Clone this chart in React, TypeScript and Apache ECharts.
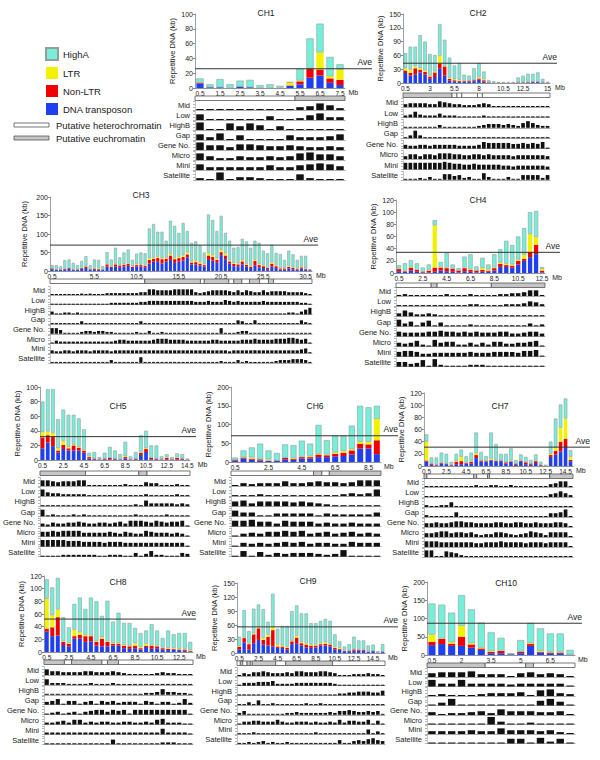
import React, { useEffect, useRef } from "react";
import * as echarts from "echarts";

const ROW_NAMES = ["Mid", "Low", "HighB", "Gap", "Gene No.", "Micro", "Mini", "Satellite"];
const SERIES_NAMES = ["HighA", "LTR", "Non-LTR", "DNA transposon"];

// ---------------- CH1 ----------------
const ch1Total = [13, 5, 12, 5, 10, 11, 4, 5, 3, 8, 26, 67, 87, 42, 32];
const ch1Dna = [6, 1, 1, 0, 2, 1, 0, 0, 0, 3, 5, 14, 17, 7, 4];
const ch1NonLtr = [1, 0, 0, 0, 0, 0, 0, 0, 0, 0.5, 4, 12, 8, 6, 7];
const ch1Ltr = [0, 0, 0, 0, 0, 0, 0, 0, 0, 4, 1, 0, 23, 3, 14];
const ch1Ave = 26;
const ch1Ticks = ["0.5", "1.5", "2.5", "3.5", "4.5", "5.5", "6.5", "7.5"];
const ch1Band = [[0, 10, 0], [10, 15, 1]];
const ch1Mid = [1, 1, 1, 0.5, 1, 1, 1, 1, 1, 1, 3, 4, 7, 5, 2];
const ch1Low = [6, 1, 0.5, 0.5, 0.5, 0.5, 1, 4, 0.5, 0.5, 2, 5, 7, 3, 3];
const ch1HighB = [8, 1, 0.5, 7, 4, 7, 5, 0.5, 4, 0.5, 1, 1, 1, 1, 0.5];
const ch1Gap = [6, 3, 7, 0.5, 5, 1, 1, 0.5, 1, 5, 3, 3, 3, 4, 6];
const ch1Gene = [8, 5, 5, 3, 6, 6, 5, 4, 4, 5, 4, 3, 3, 4, 3];
const ch1Micro = [7, 4, 2, 2, 4, 3, 3, 4, 3, 4, 7, 8, 6, 6, 4];
const ch1Mini = [6, 3, 3, 3, 3, 3, 3, 5, 3, 3, 5, 6, 7, 6, 4];
const ch1Sat = [2, 0.5, 8, 1, 3, 3, 2, 1, 1, 1, 6, 2, 0.5, 0.5, 0.5];

// ---------------- CH2 ----------------
const ch2Total = [65, 79, 79, 104, 90, 63, 61, 128, 94, 55, 38, 43, 18, 16, 32, 43, 25, 6, 4, 2, 2, 2, 2, 12, 16, 20, 20, 23, 9, 3];
const ch2Dna = [22, 16, 18, 23, 18, 9, 13, 31, 16, 5, 4, 3, 2, 3, 4, 7, 3, 1, 0.5, 0.5, 0.5, 0.5, 0.5, 1, 1, 1, 2, 2, 1, 0.5];
const ch2NonLtr = [5, 6, 14, 6, 6, 5, 10, 12, 20, 4, 2, 2, 2, 2, 2, 3, 3, 0.5, 0, 0, 0, 0, 0, 0.5, 0.5, 1, 1, 1, 0.5, 0];
const ch2Ltr = [5, 7, 4, 3, 3, 2, 2, 16, 1, 2, 2, 2, 0, 0, 0, 2, 2, 0, 0, 0, 0, 0, 0, 0, 0, 0, 0, 0, 0, 0];
const ch2Ave = 43;
const ch2Ticks = ["0.5", "3", "5.5", "8", "10.5", "12.5", "15"];
const ch2Band = [[0, 10, 1], [10, 11, 0], [11, 12, 0], [12, 15.2, 0], [15.2, 16.2, 0], [16.2, 30, 0]];
const ch2Mid = [3, 4, 4, 4, 4, 3, 3, 6, 5, 4, 3, 3, 2, 2, 2, 3, 4, 3, 0.5, 0.5, 0.5, 0.5, 0.5, 0.5, 1, 1, 1, 1, 1, 0.5];
const ch2Low = [2, 3, 6, 3, 2, 2, 2, 4, 2, 2, 2, 1, 1, 1, 1, 1, 2, 1, 0.5, 0.5, 0.5, 0.5, 0.5, 0.5, 1, 1, 1, 1, 0.5, 0.5];
const ch2HighB = [0.5, 0.5, 0.5, 0.5, 0.5, 0.5, 0.5, 3, 1, 0.5, 0.5, 0.5, 1, 1, 1, 2, 3, 4, 4, 4, 3, 4, 3, 2, 5, 7, 5, 3, 2, 2];
const ch2Gap = [0.5, 3, 8, 3, 0.5, 0.5, 0.5, 0.5, 0.5, 0.5, 0.5, 0.5, 0.5, 0.5, 0.5, 0.5, 0.5, 0.5, 0.5, 0.5, 0.5, 0.5, 1, 1, 0.5, 0.5, 0.5, 0.5, 0.5, 0.5];
const ch2Gene = [4, 3, 3, 4, 4, 3, 4, 4, 4, 4, 4, 3, 3, 3, 3, 4, 7, 6, 6, 6, 6, 6, 5, 5, 6, 5, 6, 5, 7, 1];
const ch2Micro = [3, 5, 5, 3, 5, 5, 4, 6, 6, 6, 5, 5, 4, 4, 5, 5, 4, 5, 4, 4, 4, 4, 3, 4, 4, 4, 4, 4, 4, 3];
const ch2Mini = [7, 7, 7, 7, 7, 7, 7, 7, 8, 7, 6, 6, 5, 5, 6, 5, 5, 5, 5, 5, 4, 4, 3, 4, 4, 4, 4, 4, 4, 3];
const ch2Sat = [1, 0.5, 0.5, 2, 1, 3, 0.5, 0.5, 6, 6, 4, 5, 2, 3, 0.5, 1, 7, 3, 1, 0.5, 1, 3, 0.5, 0.5, 5, 5, 5, 5, 2, 5];

// ---------------- CH3 ----------------
const ch3Total = [16, 16, 13, 29, 31, 22, 16, 27, 40, 16, 31, 30, 13, 51, 31, 63, 37, 50, 58, 30, 47, 50, 48, 115, 127, 106, 106, 82, 136, 122, 103, 130, 108, 76, 80, 70, 50, 153, 138, 108, 149, 103, 82, 63, 65, 87, 80, 63, 82, 76, 55, 48, 71, 49, 46, 30, 55, 45, 30, 41, 41, 5];
const ch3Dna = [5, 3, 3, 4, 6, 3, 3, 6, 8, 4, 5, 3, 3, 12, 8, 12, 10, 12, 14, 8, 12, 12, 10, 20, 25, 25, 20, 25, 30, 22, 25, 28, 37, 18, 18, 15, 12, 30, 28, 22, 43, 32, 20, 13, 13, 18, 12, 8, 15, 10, 8, 5, 12, 8, 4, 4, 7, 5, 3, 7, 4, 2];
const ch3NonLtr = [2, 1, 1, 2, 2, 1, 1, 2, 4, 1, 2, 2, 1, 6, 3, 6, 5, 5, 5, 3, 4, 4, 4, 10, 8, 10, 12, 8, 12, 10, 10, 10, 8, 5, 6, 5, 4, 12, 10, 8, 8, 10, 6, 6, 5, 8, 5, 4, 12, 6, 5, 3, 8, 5, 3, 3, 4, 3, 2, 3, 2, 1];
const ch3Ltr = [0, 0, 0, 0, 0, 0, 0, 1, 1, 0, 2, 2, 0, 1, 1, 1, 1, 1, 1, 1, 2, 1, 2, 4, 2, 3, 2, 2, 4, 3, 3, 4, 5, 3, 4, 4, 2, 6, 5, 4, 6, 5, 3, 2, 2, 3, 2, 2, 3, 2, 2, 1, 3, 2, 1, 1, 2, 1, 1, 2, 1, 0];
const ch3Ave = 70;
const ch3Ticks = ["0.5", "5.5", "10.5", "15.5", "20.5", "25.5", "30.5"];
const ch3Band = [[0, 22.4, 0], [22.4, 35.6, 1], [35.6, 36.5, 0], [36.5, 42.3, 1], [42.3, 43.5, 0], [43.5, 45.4, 1], [45.4, 47.2, 0], [47.2, 49.6, 1], [49.6, 51.7, 0], [51.7, 52.9, 1], [52.9, 62, 0]];
const ch3Mid = [1, 1, 1, 1, 1, 1, 1, 1.5, 1, 1.5, 1, 1, 1, 2, 2, 2, 2, 2, 2, 2, 2, 3, 3, 6, 6, 5, 5, 5, 5, 6, 6, 6, 6, 6, 3, 2, 3, 4, 5, 5, 5, 5, 4, 3, 5, 3, 5, 4, 3, 3, 5, 3, 4, 4, 4, 4, 3, 3, 3, 3, 2, 0.5];
const ch3Low = [1, 1, 1, 1, 1, 1, 1, 1, 1, 1, 1, 1, 1, 1, 2, 2, 2, 2, 2, 2, 2, 3, 3, 4, 4, 4, 4, 4, 4, 4, 4, 4, 4, 4, 3, 3, 3, 4, 3, 3, 3, 5, 4, 3, 4, 3, 3, 3, 3, 3, 4, 3, 3, 3, 3, 3, 3, 3, 3, 2, 2, 0.5];
const ch3HighB = [3, 1, 1, 2, 2, 1, 2, 1, 1, 0.5, 0.5, 1, 1, 1, 1, 1, 1, 1, 1, 1, 0.5, 0.5, 0.5, 0.5, 0.5, 0.5, 0.5, 0.5, 0.5, 0.5, 0.5, 0.5, 0.5, 0.5, 0.5, 0.5, 0.5, 0.5, 0.5, 0.5, 0.5, 0.5, 0.5, 0.5, 0.5, 0.5, 1, 0.5, 0.5, 1, 1, 1, 0.5, 0.5, 1, 1, 2, 2, 1, 3, 5, 7];
const ch3Gap = [0.5, 0.5, 1, 1, 1, 0.5, 0.5, 3, 0.5, 0.5, 0.5, 0.5, 0.5, 0.5, 0.5, 0.5, 0.5, 0.5, 1, 1, 0.5, 3, 1, 1, 0.5, 0.5, 0.5, 0.5, 0.5, 0.5, 0.5, 0.5, 0.5, 0.5, 0.5, 0.5, 0.5, 0.5, 0.5, 0.5, 0.5, 1, 1, 1, 4, 3, 1, 1, 4, 1, 1, 0.5, 0.5, 0.5, 0.5, 0.5, 1, 0.5, 1, 4, 2, 0.5];
const ch3Gene = [6, 6, 4, 1, 1, 1, 1, 2, 3, 3, 2, 3, 3, 2, 2, 1, 1, 1, 1, 1, 2, 1, 1, 3, 1, 1, 2, 1, 1, 1, 1, 1, 1, 1, 1, 1, 1, 1, 1, 1, 6, 1, 1, 1, 2, 3, 3, 1, 1, 1, 1, 1, 1, 1, 1, 1, 1, 1, 1, 1, 1, 0.5];
const ch3Micro = [1, 3, 2, 2, 2, 2, 2, 2, 2, 2, 2, 2, 2, 2, 2, 3, 4, 4, 3, 3, 3, 3, 3, 3, 4, 5, 5, 5, 4, 4, 4, 4, 3, 3, 3, 3, 3, 3, 4, 4, 3, 3, 3, 3, 3, 4, 4, 4, 5, 4, 4, 4, 4, 5, 5, 5, 6, 6, 5, 4, 5, 1];
const ch3Mini = [3, 2, 2, 3, 3, 2, 3, 3, 3, 2, 3, 3, 3, 3, 2, 3, 3, 3, 3, 3, 3, 3, 3, 3, 3, 3, 3, 3, 3, 3, 3, 3, 3, 3, 3, 3, 3, 3, 3, 3, 3, 3, 2, 3, 3, 3, 3, 3, 3, 3, 3, 3, 3, 3, 3, 3, 3, 3, 3, 4, 5, 0.5];
const ch3Sat = [0.5, 0.5, 0.5, 0.5, 1, 0.5, 0.5, 0.5, 0.5, 0.5, 0.5, 0.5, 0.5, 0.5, 3, 0.5, 0.5, 1, 0.5, 0.5, 0.5, 6, 0.5, 0.5, 0.5, 0.5, 0.5, 0.5, 0.5, 0.5, 0.5, 0.5, 0.5, 0.5, 0.5, 0.5, 0.5, 1, 0.5, 0.5, 2, 0.5, 1, 1, 3, 1, 2, 1, 1, 0.5, 1, 1, 1, 2, 3, 3, 3, 4, 4, 4, 3, 0.5];

// ---------------- CH4 ----------------
const ch4Total = [13, 16, 21, 16, 9, 14, 87, 18, 33, 14, 8, 27, 31, 11, 25, 14, 31, 39, 53, 46, 60, 74, 100, 102, 10];
const ch4Dna = [3, 2, 4, 2, 1, 1, 2, 4, 3, 2, 1, 3, 2, 1, 2, 2, 4, 10, 10, 9, 14, 20, 26, 31, 1];
const ch4NonLtr = [3.5, 1, 5, 3, 1, 3, 7, 5, 5, 5, 3, 5, 3, 3, 3, 2, 4, 5, 3, 3, 6, 3, 9, 15, 3];
const ch4Ltr = [1, 1, 1, 0, 0, 1, 69, 1, 1, 0, 0, 1, 1, 0, 3, 2, 1, 2, 2, 2, 2, 7, 29, 13, 3];
const ch4Ave = 34;
const ch4Ticks = ["0.5", "2.5", "4.5", "6.5", "8.5", "10.5", "12.5"];
const ch4Band = [[0, 5.9, 0], [5.9, 6.9, 1], [6.9, 16, 0], [16, 25, 1]];
const ch4Mid = [0.5, 2, 1, 1, 0.5, 0.5, 0.5, 0.5, 2, 1, 0.5, 0.5, 2, 0.5, 0.5, 0.5, 1, 2, 2, 3, 3, 4, 6, 6, 0.5];
const ch4Low = [0.5, 0.5, 0.5, 0.5, 0.5, 0.5, 0.5, 0.5, 0.5, 0.5, 0.5, 0.5, 2, 2, 1, 1, 1, 1, 2, 2, 2, 3, 5, 4, 2];
const ch4HighB = [3, 6, 4, 2, 2, 3, 2, 1, 1, 1, 1, 1, 1, 0.5, 1, 1, 0.5, 0.5, 0.5, 0.5, 0.5, 0.5, 0.5, 0.5, 0.5];
const ch4Gap = [7, 3, 5, 1, 4, 6, 1, 4, 0.5, 0.5, 0.5, 1, 2, 1, 0.5, 0.5, 1, 0.5, 0.5, 1, 1, 1, 3, 1, 2];
const ch4Gene = [5, 4, 4, 4, 4, 5, 5, 6, 5, 5, 4, 5, 4, 5, 4, 4, 4, 5, 5, 3, 3, 4, 5, 5, 3];
const ch4Micro = [4, 3, 4, 6, 2, 1, 7, 4, 5, 5, 2, 2, 4, 2, 4, 2, 5, 5, 3, 3, 4, 4, 5, 6, 0.5];
const ch4Mini = [5, 6, 6, 5, 3, 3, 4, 4, 4, 4, 4, 4, 5, 4, 4, 4, 5, 5, 5, 5, 4, 6, 6, 7, 0.5];
const ch4Sat = [5, 5, 3, 4, 7, 1, 8, 2, 0.5, 0.5, 1, 1, 2, 2, 2, 1, 1, 0.5, 1, 0.5, 1, 0.5, 0.5, 0.5, 0.5];

// ---------------- CH5 ----------------
const ch5Total = [80, 97, 97, 56, 69, 62, 62, 57, 42, 10, 11, 4, 10, 18, 13, 8, 25, 5, 11, 34, 40, 20, 20, 5, 8, 4, 9, 8, 2];
const ch5Dna = [16, 24, 19, 10, 15, 13, 13, 13, 10, 2, 1, 0.5, 1, 1, 1, 0.5, 2, 0.5, 1, 7, 11, 1, 1, 0.5, 1, 0.5, 1, 1, 0.5];
const ch5NonLtr = [15, 10, 13, 3, 6, 3, 7, 4, 3, 2, 1, 0.5, 1, 2, 1, 0.5, 2, 0.5, 1, 3, 4, 2, 1, 0.5, 2, 0.5, 2, 1, 0];
const ch5Ltr = [7, 5, 5, 3, 5, 2, 1, 1, 1, 1, 0, 0, 0, 0, 0, 0, 1, 0, 0, 1, 1, 0, 0, 0, 1, 0, 1, 0, 0];
const ch5Ave = 32;
const ch5Ticks = ["0.5", "2.5", "4.5", "6.5", "8.5", "10.5", "12.5", "14.5"];
const ch5Band = [[0, 8.8, 1], [8.8, 19.1, 0], [19.1, 20.7, 1], [20.7, 29, 0]];
const ch5Mid = [6, 6, 5, 4, 5, 5, 5, 6, 6, 1, 1, 1, 1, 1, 1, 1, 2, 1, 1, 1, 4, 3, 3, 1, 1, 1, 2, 1, 0.5];
const ch5Low = [7, 4, 3, 3, 2, 2, 2, 2, 2, 1, 1, 1, 1, 1, 1, 1, 1, 1, 1, 1, 2, 1, 1, 1, 1, 1, 2, 1, 0.5];
const ch5HighB = [0.5, 0.5, 0.5, 0.5, 1, 0.5, 0.5, 0.5, 0.5, 0.5, 0.5, 1, 1, 1, 1, 1, 1, 1, 2, 1, 6, 3, 3, 3, 3, 3, 2, 3, 2];
const ch5Gap = [7, 1, 2, 1, 1, 1, 2, 1, 2, 0.5, 0.5, 0.5, 0.5, 0.5, 0.5, 0.5, 0.5, 0.5, 2, 1, 0.5, 0.5, 0.5, 0.5, 2, 1, 1, 1, 0.5];
const ch5Gene = [3, 2, 4, 3, 3, 4, 4, 5, 4, 3, 3, 4, 4, 3, 4, 5, 3, 6, 6, 6, 5, 4, 6, 5, 4, 5, 5, 6, 1];
const ch5Micro = [5, 5, 6, 5, 6, 6, 6, 6, 4, 4, 4, 4, 4, 5, 4, 3, 5, 4, 3, 3, 6, 5, 4, 4, 4, 3, 4, 3, 1];
const ch5Mini = [7, 7, 7, 7, 7, 6, 6, 6, 5, 5, 5, 5, 4, 5, 5, 5, 4, 4, 4, 4, 4, 4, 4, 4, 4, 4, 4, 4, 1];
const ch5Sat = [0.5, 0.5, 0.5, 0.5, 2, 2, 2, 2, 2, 2, 2, 1, 1, 2, 2, 2, 1, 1, 4, 0.5, 3, 6, 2, 2, 1, 1, 1, 4, 3];

// ---------------- CH6 ----------------
const ch6Total = [12, 31, 39, 49, 31, 24, 47, 45, 57, 49, 99, 58, 70, 70, 97, 150, 146, 150];
const ch6Dna = [4, 9, 6, 4, 3, 3, 7, 6, 9, 9, 13, 13, 15, 16, 20, 36, 36, 21];
const ch6NonLtr = [2, 3, 3, 3, 1, 1, 4, 3, 4, 4, 7, 5, 7, 9, 11, 13, 11, 37];
const ch6Ltr = [0, 1, 3, 0, 3, 0, 0, 2, 0, 2, 2, 2, 3, 4, 3, 5, 7, 57];
const ch6Ave = 70;
const ch6Ticks = ["0.5", "2.5", "4.5", "6.5", "8.5"];
const ch6Band = [[0, 9.9, 0], [9.9, 10.9, 1], [10.9, 11.8, 0], [11.8, 18, 1]];
const ch6Mid = [0.5, 3, 2, 3, 3, 3, 5, 3, 3, 4, 5, 4, 4, 3, 4, 6, 6, 6];
const ch6Low = [0.5, 1, 1, 2, 1, 1, 1, 1, 1, 1, 1, 1, 1, 2, 3, 2, 3, 7];
const ch6HighB = [5, 6, 3, 5, 5, 5, 5, 4, 5, 4, 3, 2, 1, 0.5, 0.5, 0.5, 0.5, 0.5];
const ch6Gap = [6, 4, 4, 1, 1, 3, 3, 3, 3, 3, 0.5, 3, 2, 2, 2, 2, 2, 4];
const ch6Gene = [6, 6, 7, 5, 5, 3, 6, 5, 5, 5, 3, 4, 3, 3, 4, 3, 3, 3];
const ch6Micro = [1, 3, 4, 3, 5, 5, 6, 5, 6, 3, 4, 5, 3, 4, 5, 3, 4, 3];
const ch6Mini = [1, 4, 3, 4, 3, 4, 5, 4, 5, 3, 4, 4, 3, 3, 5, 4, 4, 4];
const ch6Sat = [1, 6, 1, 5, 2, 4, 3, 4, 4, 4, 3, 2, 3, 7, 1, 1, 0.5, 0.5];

// ---------------- CH7 ----------------
const ch7Total = [52, 14, 14, 22, 20, 7, 20, 27, 16, 22, 55, 23, 16, 55, 36, 20, 20, 29, 10, 19, 15, 10, 19, 7, 2, 40, 78, 101, 111, 26];
const ch7Dna = [7, 2, 1, 4, 3, 1, 3, 3, 4, 4, 13, 7, 7, 9, 8, 8, 4, 7, 2, 8, 3, 2, 5, 1, 0.5, 15, 19, 24, 31, 8];
const ch7NonLtr = [2, 2, 1, 1, 1, 1, 4, 5, 1, 3, 5, 2, 1, 1, 1, 1, 2, 1, 2, 1, 3, 2, 3, 1, 0, 3, 6, 16, 14, 2];
const ch7Ltr = [31, 0, 0, 0, 0, 0, 1, 7, 0, 1, 3, 0, 0, 2, 1, 0, 0, 1, 0, 1, 0, 0, 1, 0, 0, 2, 6, 23, 33, 5];
const ch7Ave = 31;
const ch7Ticks = ["0.5", "2.5", "4.5", "6.5", "8.5", "10.5", "12.5", "14.5"];
const ch7Band = [[0, 0.6, 1], [0.6, 10, 0], [10, 10.6, 1], [10.6, 12.8, 0], [12.8, 13.2, 1], [13.2, 25.3, 0], [25.3, 30, 1]];
const ch7Mid = [0.5, 1, 1, 1, 1, 0.5, 1, 1, 1, 1, 2, 1, 1, 2, 2, 1, 1, 2, 1, 1, 1, 1, 1, 0.5, 0.5, 3, 4, 6, 6, 1];
const ch7Low = [0.5, 0.5, 1, 1, 1, 0.5, 1, 1, 1, 1, 1, 1, 1, 1, 1, 1, 1, 1, 1, 1, 1, 1, 1, 1, 1, 3, 4, 6, 4, 2];
const ch7HighB = [2, 1, 0.5, 2, 2, 5, 1, 0.5, 0.5, 0.5, 0.5, 0.5, 0.5, 0.5, 0.5, 0.5, 0.5, 0.5, 0.5, 0.5, 0.5, 1, 0.5, 0.5, 0.5, 0.5, 1, 1, 0.5, 0.5];
const ch7Gap = [2, 1, 1, 1, 1, 0.5, 5, 1, 1, 0.5, 0.5, 0.5, 0.5, 1, 0.5, 0.5, 0.5, 0.5, 0.5, 0.5, 0.5, 0.5, 0.5, 0.5, 0.5, 4, 4, 5, 8, 1];
const ch7Gene = [4, 4, 5, 4, 4, 5, 6, 6, 5, 5, 4, 4, 4, 4, 5, 5, 4, 4, 5, 5, 4, 4, 5, 4, 4, 4, 5, 5, 4, 1];
const ch7Micro = [4, 4, 5, 6, 6, 4, 5, 5, 4, 5, 3, 2, 3, 3, 5, 5, 4, 3, 2, 3, 4, 6, 5, 4, 2, 5, 5, 5, 5, 1];
const ch7Mini = [6, 6, 6, 5, 5, 5, 5, 5, 5, 5, 4, 4, 5, 5, 5, 6, 5, 5, 5, 5, 4, 5, 5, 5, 4, 5, 5, 5, 5, 1];
const ch7Sat = [7, 7, 1, 1, 6, 5, 4, 2, 1, 1, 1, 1, 1, 0.5, 1, 1, 1, 1, 1, 1, 1, 1, 1, 1, 1, 0.5, 1, 1, 1, 0.5];

// ---------------- CH8 ----------------
const ch8Total = [115, 102, 117, 55, 39, 76, 86, 68, 86, 80, 57, 81, 48, 62, 46, 46, 38, 30, 34, 44, 34, 22, 34, 28, 30, 30, 16];
const ch8Dna = [32, 25, 26, 11, 9, 21, 21, 16, 17, 10, 9, 9, 10, 10, 6, 5, 6, 4, 8, 5, 6, 4, 3, 4, 3, 2, 1];
const ch8NonLtr = [5, 14, 29, 5, 4, 4, 6, 9, 8, 6, 12, 7, 3, 3, 4, 4, 4, 2, 2, 5, 3, 2, 2, 1, 1, 2, 1];
const ch8Ltr = [47, 19, 12, 1, 1, 10, 4, 2, 1, 1, 2, 1, 1, 1, 1, 1, 4, 2, 3, 1, 1, 1, 1, 1, 1, 1, 1];
const ch8Ave = 52;
const ch8Ticks = ["0.5", "2.5", "4.5", "6.5", "8.5", "10.5", "12.5"];
const ch8Band = [[0, 3.7, 1], [3.7, 5, 0], [5, 10.5, 1], [10.5, 11.5, 0], [11.5, 13.5, 1], [13.5, 27, 0]];
const ch8Mid = [6, 4, 4, 3, 3, 3, 3, 4, 4, 3, 3, 3, 4, 3, 2, 1, 1, 1, 1, 1, 2, 3, 2, 2, 1, 1, 0.5];
const ch8Low = [6, 2, 2, 2, 1, 1, 1, 1, 2, 1, 1, 1, 2, 1, 1, 1, 1, 1, 1, 1, 1, 1, 1, 1, 1, 1, 0.5];
const ch8HighB = [0.5, 0.5, 0.5, 0.5, 0.5, 0.5, 0.5, 0.5, 0.5, 0.5, 0.5, 0.5, 0.5, 0.5, 0.5, 0.5, 1, 1, 2, 2, 3, 6, 3, 3, 2, 2, 1];
const ch8Gap = [3, 4, 6, 0.5, 4, 4, 0.5, 3, 4, 0.5, 4, 3, 4, 2, 3, 3, 3, 0.5, 4, 3, 1, 3, 3, 1, 2, 6, 2];
const ch8Gene = [1, 2, 3, 1, 2, 3, 0.5, 3, 4, 5, 5, 3, 5, 4, 5, 0.5, 5, 5, 5, 5, 5, 5, 5, 5, 5, 5, 1];
const ch8Micro = [2, 2, 3, 4, 2, 5, 5, 2, 3, 2, 3, 3, 2, 2, 3, 3, 2, 2, 3, 2, 5, 6, 2, 2, 2, 1, 0.5];
const ch8Mini = [2, 2, 2, 2, 2, 2, 2, 2, 2, 2, 2, 2, 2, 2, 2, 2, 2, 2, 2, 2, 2, 6, 2, 2, 2, 2, 0.5];
const ch8Sat = [0.5, 0.5, 1, 0.5, 0.5, 0.5, 0.5, 0.5, 0.5, 1, 1, 1, 5, 1, 1, 1, 1, 0.5, 0.5, 0.5, 1, 2, 2, 2, 1, 1, 1];

// ---------------- CH9 ----------------
const ch9Total = [35, 92, 47, 95, 104, 94, 67, 127, 52, 58, 58, 90, 102, 85, 85, 64, 64, 69, 73, 69, 40, 25, 14, 19, 35, 27, 27, 16, 18, 4, 19];
const ch9Dna = [8, 23, 7, 21, 28, 18, 16, 14, 11, 11, 7, 19, 21, 16, 12, 11, 12, 16, 16, 14, 8, 7, 4, 4, 5, 5, 5, 2, 4, 1, 2];
const ch9NonLtr = [5, 9, 12, 19, 25, 10, 19, 35, 3, 3, 4, 6, 12, 5, 6, 5, 4, 3, 4, 4, 3, 2, 1, 1, 3, 2, 2, 1, 1, 0, 1];
const ch9Ltr = [2, 1, 2, 2, 2, 4, 4, 7, 4, 2, 2, 1, 4, 2, 2, 2, 2, 2, 3, 1, 2, 2, 1, 0, 1, 0, 0, 0, 0, 0, 0];
const ch9Ave = 56;
const ch9Ticks = ["0.5", "2.5", "4.5", "6.5", "8.5", "10.5", "12.5", "14.5"];
const ch9Band = [[0, 0.7, 0], [0.7, 1.2, 1], [1.2, 2.1, 0], [2.1, 2.8, 1], [2.8, 3.2, 0], [3.2, 8.1, 1], [8.1, 10.2, 0], [10.2, 20, 1], [20, 31, 0]];
const ch9Mid = [1, 3, 2, 4, 4, 5, 4, 3, 3, 3, 4, 3, 5, 5, 4, 4, 4, 5, 5, 4, 3, 1, 1, 1, 2, 2, 2, 3, 2, 2, 1];
const ch9Low = [1, 3, 3, 3, 4, 4, 4, 5, 2, 2, 2, 2, 3, 3, 3, 3, 3, 3, 3, 3, 2, 1, 1, 1, 1, 1, 1, 1, 1, 1, 1];
const ch9HighB = [1, 1, 0.5, 0.5, 0.5, 0.5, 1, 0.5, 1, 1, 0.5, 0.5, 1, 0.5, 1, 0.5, 0.5, 0.5, 0.5, 0.5, 1, 2, 2, 3, 3, 4, 4, 4, 3, 3, 5];
const ch9Gap = [0.5, 1, 3, 1, 5, 1, 1, 2, 1, 1, 1, 1, 1, 1, 2, 1, 1, 2, 1, 1, 1, 1, 1, 0.5, 1, 1, 1, 1, 1, 1, 1];
const ch9Gene = [2, 4, 1, 0.5, 0.5, 1, 1, 1, 1, 1, 2, 2, 3, 2, 2, 2, 2, 2, 2, 3, 2, 4, 4, 5, 4, 3, 3, 4, 3, 4, 1];
const ch9Micro = [1, 3, 3, 4, 4, 3, 3, 3, 5, 3, 2, 2, 3, 3, 3, 2, 3, 2, 2, 3, 2, 5, 2, 4, 4, 3, 3, 5, 1, 4, 1];
const ch9Mini = [1, 1, 1, 2, 1, 1, 1, 1, 1, 1, 1, 1, 1, 1, 1, 1, 2, 1, 1, 1, 1, 1, 1, 1, 1, 1, 1, 5, 1, 3, 1];
const ch9Sat = [1, 1, 2, 1, 2, 3, 0.5, 2, 1, 1, 2, 1, 1, 1, 0.5, 1, 1, 1, 1, 1, 1, 4, 1, 1, 3, 4, 3, 5, 6, 4, 3];

// ---------------- CH10 ----------------
const ch10Total = [141, 138, 116, 164, 125, 89, 62, 47, 5, 41, 88, 73, 59, 59, 14];
const ch10Dna = [27, 30, 25, 25, 20, 14, 5, 5, 2, 5, 25, 7, 5, 5, 1];
const ch10NonLtr = [9, 14, 6, 25, 9, 4, 4, 6, 0, 4, 5, 2, 2, 2, 0];
const ch10Ltr = [20, 1, 4, 30, 3, 2, 2, 1, 0, 0, 2, 3, 2, 2, 0];
const ch10Ave = 87;
const ch10Ticks = ["0.5", "2", "3.5", "5", "6.5"];
const ch10Band = [[0, 5.9, 1], [5.9, 10, 0], [10, 10.8, 1], [10.8, 15, 0]];
const ch10Mid = [4, 5, 5, 5, 6, 3, 3, 3, 1, 4, 5, 3, 4, 3, 0.5];
const ch10Low = [7, 3, 3, 7, 3, 3, 3, 3, 2, 3, 3, 3, 3, 3, 1];
const ch10HighB = [0.5, 2, 0.5, 0.5, 0.5, 2, 3, 3, 3, 4, 0.5, 6, 7, 3, 2];
const ch10Gap = [0.5, 3, 7, 0.5, 0.5, 0.5, 0.5, 0.5, 0.5, 0.5, 0.5, 5, 7, 4, 1];
const ch10Gene = [3, 0.5, 2, 2, 3, 4, 2, 6, 4, 4, 4, 3, 3, 4, 0.5];
const ch10Micro = [1, 1, 1, 1, 1, 1, 8, 3, 1, 1, 2, 1, 1, 1, 0.5];
const ch10Mini = [3, 3, 3, 3, 4, 3, 3, 6, 4, 4, 4, 3, 4, 2, 0.5];
const ch10Sat = [0.5, 0.5, 0.5, 0.5, 0.5, 1, 1, 1, 5, 5, 1, 6, 2, 5, 1];

const CHROMS = [
  { name: "CH1", total: ch1Total, dna: ch1Dna, nonLtr: ch1NonLtr, ltr: ch1Ltr, ave: ch1Ave, ticks: ch1Ticks, band: ch1Band, rows: [ch1Mid, ch1Low, ch1HighB, ch1Gap, ch1Gene, ch1Micro, ch1Mini, ch1Sat] },
  { name: "CH2", total: ch2Total, dna: ch2Dna, nonLtr: ch2NonLtr, ltr: ch2Ltr, ave: ch2Ave, ticks: ch2Ticks, band: ch2Band, rows: [ch2Mid, ch2Low, ch2HighB, ch2Gap, ch2Gene, ch2Micro, ch2Mini, ch2Sat] },
  { name: "CH3", total: ch3Total, dna: ch3Dna, nonLtr: ch3NonLtr, ltr: ch3Ltr, ave: ch3Ave, ticks: ch3Ticks, band: ch3Band, rows: [ch3Mid, ch3Low, ch3HighB, ch3Gap, ch3Gene, ch3Micro, ch3Mini, ch3Sat] },
  { name: "CH4", total: ch4Total, dna: ch4Dna, nonLtr: ch4NonLtr, ltr: ch4Ltr, ave: ch4Ave, ticks: ch4Ticks, band: ch4Band, rows: [ch4Mid, ch4Low, ch4HighB, ch4Gap, ch4Gene, ch4Micro, ch4Mini, ch4Sat] },
  { name: "CH5", total: ch5Total, dna: ch5Dna, nonLtr: ch5NonLtr, ltr: ch5Ltr, ave: ch5Ave, ticks: ch5Ticks, band: ch5Band, rows: [ch5Mid, ch5Low, ch5HighB, ch5Gap, ch5Gene, ch5Micro, ch5Mini, ch5Sat] },
  { name: "CH6", total: ch6Total, dna: ch6Dna, nonLtr: ch6NonLtr, ltr: ch6Ltr, ave: ch6Ave, ticks: ch6Ticks, band: ch6Band, rows: [ch6Mid, ch6Low, ch6HighB, ch6Gap, ch6Gene, ch6Micro, ch6Mini, ch6Sat] },
  { name: "CH7", total: ch7Total, dna: ch7Dna, nonLtr: ch7NonLtr, ltr: ch7Ltr, ave: ch7Ave, ticks: ch7Ticks, band: ch7Band, rows: [ch7Mid, ch7Low, ch7HighB, ch7Gap, ch7Gene, ch7Micro, ch7Mini, ch7Sat] },
  { name: "CH8", total: ch8Total, dna: ch8Dna, nonLtr: ch8NonLtr, ltr: ch8Ltr, ave: ch8Ave, ticks: ch8Ticks, band: ch8Band, rows: [ch8Mid, ch8Low, ch8HighB, ch8Gap, ch8Gene, ch8Micro, ch8Mini, ch8Sat] },
  { name: "CH9", total: ch9Total, dna: ch9Dna, nonLtr: ch9NonLtr, ltr: ch9Ltr, ave: ch9Ave, ticks: ch9Ticks, band: ch9Band, rows: [ch9Mid, ch9Low, ch9HighB, ch9Gap, ch9Gene, ch9Micro, ch9Mini, ch9Sat] },
  { name: "CH10", total: ch10Total, dna: ch10Dna, nonLtr: ch10NonLtr, ltr: ch10Ltr, ave: ch10Ave, ticks: ch10Ticks, band: ch10Band, rows: [ch10Mid, ch10Low, ch10HighB, ch10Gap, ch10Gene, ch10Micro, ch10Mini, ch10Sat] },
];

// layout (pixels) for each panel
const LAYOUT = [
  { left: 195, width: 150, top: 14, height: 74, yMax: 100, yInt: 20, aveEnd: 372, bandTop: 96, row0: 110, pitch: 10, tx: 266, ty: 8, nameGap: 19 },
  { left: 403, width: 147, top: 14, height: 69, yMax: 150, yInt: 30, aveEnd: 557, bandTop: 93, row0: 107, pitch: 10.4, tx: 478, ty: 8, nameGap: 19 },
  { left: 50, width: 262, top: 197, height: 74, yMax: 200, yInt: 50, aveEnd: 318, bandTop: 279, row0: 295, pitch: 9.7, tx: 141, ty: 190, nameGap: 22 },
  { left: 396, width: 149, top: 200, height: 73, yMax: 120, yInt: 20, aveEnd: 560, bandTop: 283, row0: 296, pitch: 10.1, tx: 478, ty: 195, nameGap: 19 },
  { left: 40, width: 150, top: 387, height: 73, yMax: 100, yInt: 20, aveEnd: 196, bandTop: 471, row0: 486, pitch: 10.1, tx: 118, ty: 401, nameGap: 19 },
  { left: 231, width: 150, top: 387, height: 75, yMax: 200, yInt: 50, aveEnd: 398, bandTop: 471, row0: 486, pitch: 10.1, tx: 315, ty: 401, nameGap: 19 },
  { left: 424, width: 149, top: 393, height: 73, yMax: 120, yInt: 20, aveEnd: 590, bandTop: 474, row0: 487, pitch: 10, tx: 500, ty: 401, nameGap: 19 },
  { left: 44, width: 149, top: 576, height: 76, yMax: 120, yInt: 20, aveEnd: 196, bandTop: 660, row0: 675, pitch: 9.9, tx: 118, ty: 577, nameGap: 19 },
  { left: 237, width: 148, top: 583, height: 70, yMax: 150, yInt: 30, aveEnd: 398, bandTop: 661, row0: 676, pitch: 9.7, tx: 308, ty: 576, nameGap: 19 },
  { left: 427, width: 148, top: 582, height: 73, yMax: 200, yInt: 50, aveEnd: 582, bandTop: 663, row0: 677, pitch: 9.5, tx: 506, ty: 578, nameGap: 19 },
];

const FONT = "'Liberation Sans', Arial, Helvetica, sans-serif";
const C_HIGHA = "#74f0da";
const C_LTR = "#f2f200";
const C_NONLTR = "#f00000";
const C_DNA = "#2040f0";
const TXT = "#1a1a1a";

function buildOption() {
  const grids: any[] = [];
  const xAxes: any[] = [];
  const yAxes: any[] = [];
  const series: any[] = [];
  const graphics: any[] = [];

  CHROMS.forEach((c, ci) => {
    const L = LAYOUT[ci];
    const n = c.total.length;
    const cats = c.total.map((_, i) => String(0.5 + 0.5 * i));

    // ---- main stacked bar grid ----
    const gi = grids.length;
    grids.push({ left: L.left, top: L.top, width: L.width, height: L.height });
    xAxes.push({
      gridIndex: gi, type: "category", data: cats,
      axisLine: { show: true, lineStyle: { color: "#777", width: 0.8 } },
      axisTick: { show: false },
      axisLabel: { fontSize: 6.5, color: TXT, margin: 2, interval: (idx: number, val: string) => c.ticks.includes(val) },
      name: "Mb", nameLocation: "end", nameGap: 3,
      nameTextStyle: { fontSize: 7, color: TXT, verticalAlign: "top", padding: [1, 0, 0, 0] },
    });
    yAxes.push({
      gridIndex: gi, type: "value", min: 0, max: L.yMax, interval: L.yInt,
      axisLine: { show: true, lineStyle: { color: "#888", width: 0.8 } },
      axisTick: { show: true, length: 2, lineStyle: { color: "#888" } },
      axisLabel: { fontSize: 7, color: TXT, margin: 2 },
      splitLine: { show: false },
      name: "Repetitive DNA (kb)", nameLocation: "middle", nameGap: L.nameGap,
      nameTextStyle: { fontSize: 7.5, color: TXT },
    });
    const cyan = c.total.map((t, i) => Math.max(0, t - c.dna[i] - c.nonLtr[i] - c.ltr[i]));
    const stack = "st" + ci;
    const parts: [string, number[], string][] = [
      ["DNA transposon", c.dna, C_DNA],
      ["Non-LTR", c.nonLtr, C_NONLTR],
      ["LTR", c.ltr, C_LTR],
      ["HighA", cyan, C_HIGHA],
    ];
    parts.forEach(([name, data, color]) => {
      series.push({
        type: "bar", name, stack, xAxisIndex: gi, yAxisIndex: gi, data,
        barCategoryGap: "28%", silent: true,
        itemStyle: name === "HighA" ? { color, borderColor: "#9a9a9a", borderWidth: 0.6 } : { color },
      });
    });

    // ---- Ave line overlay ----
    const oi = grids.length;
    grids.push({ left: L.left, top: L.top, width: L.aveEnd - L.left, height: L.height });
    xAxes.push({ gridIndex: oi, type: "value", min: 0, max: 1, show: false });
    yAxes.push({ gridIndex: oi, type: "value", min: 0, max: L.yMax, show: false });
    series.push({
      type: "line", xAxisIndex: oi, yAxisIndex: oi, silent: true,
      symbol: "circle", symbolSize: 0.01, showSymbol: true,
      lineStyle: { color: "#333", width: 1 }, itemStyle: { color: "#333" },
      data: [
        { value: [0, c.ave] },
        { value: [1, c.ave], label: { show: true, formatter: "Ave", position: "top", align: "right", fontSize: 8.5, color: TXT, distance: 2 } },
      ],
    });

    // ---- chromosome band ----
    const bi = grids.length;
    grids.push({ left: L.left, top: L.bandTop, width: L.width, height: 4.5 });
    xAxes.push({ gridIndex: bi, type: "value", min: 0, max: n, show: false });
    yAxes.push({ gridIndex: bi, type: "value", min: 0, max: 1, show: false });
    series.push({
      type: "custom", xAxisIndex: bi, yAxisIndex: bi, silent: true, data: c.band,
      renderItem: (_p: any, api: any) => {
        const p0 = api.coord([api.value(0), 1]);
        const p1 = api.coord([api.value(1), 0]);
        return {
          type: "rect",
          shape: { x: p0[0], y: p0[1], width: p1[0] - p0[0], height: p1[1] - p0[1] },
          style: { fill: api.value(2) === 1 ? "#c6c6c6" : "#ffffff", stroke: "#555", lineWidth: 0.8 },
        };
      },
    });

    // ---- feature rows ----
    c.rows.forEach((row, r) => {
      const ri = grids.length;
      const base = L.row0 + r * L.pitch;
      grids.push({ left: L.left, top: base - 8.5, width: L.width, height: 8.5 });
      xAxes.push({
        gridIndex: ri, type: "category", data: cats,
        axisLine: { show: true, lineStyle: { color: "#888", width: 0.7 } },
        axisTick: { show: false }, axisLabel: { show: false },
      });
      yAxes.push({
        gridIndex: ri, type: "value", min: 0, max: 9, interval: 3,
        axisLine: { show: true, lineStyle: { color: "#b5b5b5", width: 0.8 } },
        axisTick: { show: true, length: 2, lineStyle: { color: "#b5b5b5" } },
        axisLabel: { show: false }, splitLine: { show: false },
        name: ROW_NAMES[r], nameLocation: "middle", nameRotate: 0, nameGap: 5,
        nameTextStyle: { fontSize: 7.5, color: TXT, align: "right", verticalAlign: "middle" },
      });
      series.push({
        type: "bar", xAxisIndex: ri, yAxisIndex: ri, data: row, silent: true,
        barCategoryGap: "25%", barMinHeight: 1, itemStyle: { color: "#111" },
      });
    });

    graphics.push({
      type: "text", x: L.tx, y: L.ty, silent: true,
      style: { text: c.name, fontSize: 8.5, fontFamily: FONT, fill: TXT, align: "center", textAlign: "center", verticalAlign: "top", textVerticalAlign: "top" },
    });
  });

  // chromatin legend
  graphics.push(
    { type: "rect", shape: { x: 14, y: 123, width: 35, height: 4 }, style: { fill: "#fff", stroke: "#555", lineWidth: 0.8 }, silent: true },
    { type: "text", x: 56, y: 125, silent: true, style: { text: "Putative heterochromatin", fontSize: 9.5, fontFamily: FONT, fill: TXT, verticalAlign: "middle", textVerticalAlign: "middle" } },
    { type: "rect", shape: { x: 14, y: 136, width: 35, height: 4 }, style: { fill: "#c6c6c6", stroke: "#555", lineWidth: 0.8 }, silent: true },
    { type: "text", x: 56, y: 138, silent: true, style: { text: "Putative euchromatin", fontSize: 9.5, fontFamily: FONT, fill: TXT, verticalAlign: "middle", textVerticalAlign: "middle" } },
  );

  return {
    animation: false,
    textStyle: { fontFamily: FONT },
    legend: {
      data: SERIES_NAMES, orient: "vertical", left: 40, top: 42,
      itemWidth: 12, itemHeight: 12, itemGap: 6, icon: "rect", selectedMode: false,
      textStyle: { fontSize: 9.5, color: TXT },
    },
    grid: grids, xAxis: xAxes, yAxis: yAxes, series, graphic: graphics,
  };
}

export default function App() {
  const ref = useRef<HTMLDivElement>(null);
  useEffect(() => {
    if (!ref.current) return;
    const chart = echarts.init(ref.current, undefined, { renderer: "svg" });
    chart.setOption(buildOption() as any);
    return () => chart.dispose();
  }, []);
  return <div ref={ref} style={{ position: "absolute", left: 0, top: 0, width: 600, height: 760, background: "#fff" }} />;
}
